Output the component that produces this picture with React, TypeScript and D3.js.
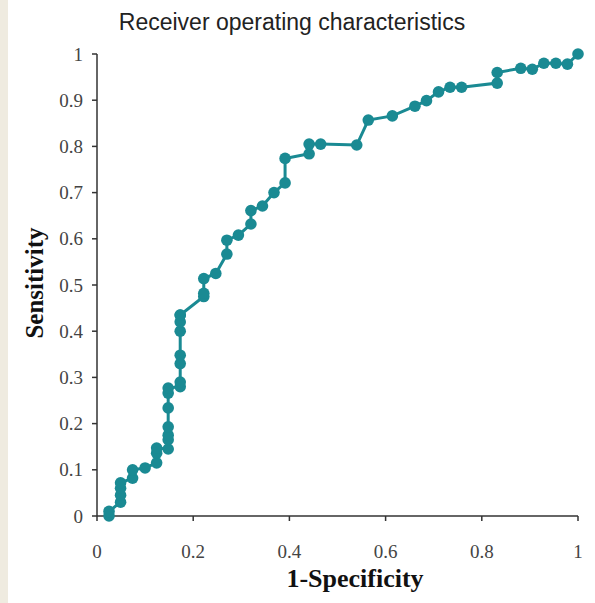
import React from "react";
import * as d3 from "d3";

const fpr: number[] = [
  0.025, 0.025, 0.049, 0.049, 0.049, 0.049, 0.074, 0.074, 0.1, 0.124, 0.124, 0.124,
  0.148, 0.148, 0.148, 0.148, 0.148, 0.148, 0.148, 0.173, 0.173, 0.173, 0.173, 0.173,
  0.173, 0.173, 0.173, 0.222, 0.222, 0.222, 0.247, 0.27, 0.27, 0.294, 0.32, 0.32,
  0.344, 0.368, 0.391, 0.391, 0.441, 0.441, 0.465, 0.54, 0.564, 0.614, 0.661, 0.685,
  0.71, 0.734, 0.758, 0.832, 0.832, 0.881, 0.905, 0.929, 0.954, 0.978, 1.0,
];
const tpr: number[] = [
  0.0, 0.01, 0.03, 0.045, 0.06, 0.072, 0.082, 0.1, 0.104, 0.115, 0.136, 0.147,
  0.145, 0.165, 0.175, 0.193, 0.234, 0.266, 0.277, 0.28, 0.29, 0.33, 0.348, 0.4,
  0.42, 0.435, 0.435, 0.475, 0.482, 0.514, 0.525, 0.567, 0.597, 0.608, 0.632, 0.661,
  0.671, 0.7, 0.721, 0.774, 0.784, 0.805, 0.805, 0.803, 0.857, 0.866, 0.887, 0.899,
  0.918, 0.928, 0.928, 0.937, 0.96, 0.969, 0.967, 0.98, 0.98, 0.978, 1.0,
];
const xTicks: number[] = [0, 0.2, 0.4, 0.6, 0.8, 1];
const yTicks: number[] = [0, 0.1, 0.2, 0.3, 0.4, 0.5, 0.6, 0.7, 0.8, 0.9, 1];
const title = "Receiver operating characteristics";
const xTitle = "1-Specificity";
const yTitle = "Sensitivity";

const W = 595;
const H = 603;
const TEAL = "#1a8a93";
const AXIS = "#333";

export default function App() {
  const x = d3.scaleLinear().domain([0, 1]).range([97, 578]);
  const y = d3.scaleLinear().domain([0, 1]).range([516, 54]);
  const pts = fpr.map((f, i) => [f, tpr[i]] as [number, number]);
  const line = d3
    .line<[number, number]>()
    .x((d) => x(d[0]))
    .y((d) => y(d[1]));
  const serif = "'Liberation Serif', 'Times New Roman', serif";
  return (
    <svg
      width={W}
      height={H}
      style={{ position: "fixed", left: 0, top: 0, background: "#fff" }}
    >
      <rect x={0} y={0} width={W} height={H} fill="#fff" />
      <rect x={0} y={0} width={8} height={H} fill="#efebe0" />
      <text
        x={292}
        y={30}
        textAnchor="middle"
        fontFamily="'Liberation Sans', Arial, sans-serif"
        fontSize={23}
        fill="#222"
      >
        {title}
      </text>
      <line x1={x(0)} x2={x(1)} y1={y(0)} y2={y(0)} stroke={AXIS} strokeWidth={1.5} />
      <line x1={x(0)} x2={x(0)} y1={y(0)} y2={y(1)} stroke={AXIS} strokeWidth={1.5} />
      {xTicks.map((t) => (
        <g key={"x" + t}>
          <line x1={x(t)} x2={x(t)} y1={y(0)} y2={y(0) + 5} stroke={AXIS} strokeWidth={1.5} />
          <text
            x={x(t)}
            y={558}
            textAnchor="middle"
            fontFamily={serif}
            fontSize={19}
            fill="#444"
          >
            {d3.format("~g")(t)}
          </text>
        </g>
      ))}
      {yTicks.map((t) => (
        <g key={"y" + t}>
          <line x1={x(0) - 5} x2={x(0)} y1={y(t)} y2={y(t)} stroke={AXIS} strokeWidth={1.5} />
          <text
            x={83}
            y={y(t)}
            dy="0.35em"
            textAnchor="end"
            fontFamily={serif}
            fontSize={19}
            fill="#444"
          >
            {d3.format("~g")(t)}
          </text>
        </g>
      ))}
      <text
        x={355}
        y={587}
        textAnchor="middle"
        fontFamily={serif}
        fontWeight="bold"
        fontSize={26}
        fill="#111"
      >
        {xTitle}
      </text>
      <text
        transform={`translate(43,283) rotate(-90)`}
        textAnchor="middle"
        fontFamily={serif}
        fontWeight="bold"
        fontSize={25}
        fill="#111"
      >
        {yTitle}
      </text>
      <path d={line(pts) ?? ""} fill="none" stroke={TEAL} strokeWidth={3} />
      {pts.map((d, i) => (
        <circle key={i} cx={x(d[0])} cy={y(d[1])} r={5.8} fill={TEAL} />
      ))}
    </svg>
  );
}
